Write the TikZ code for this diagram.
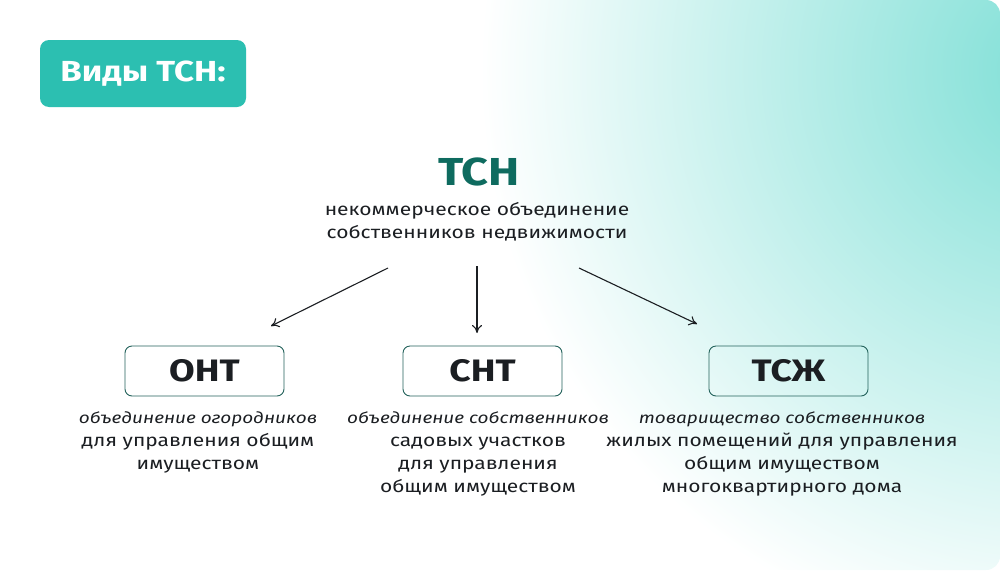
\documentclass[tikz,border=0pt]{standalone}
\usepackage{fontspec}
\setmainfont{Fira Sans}[FakeStretch=1.2]
\usetikzlibrary{arrows.meta}
\definecolor{teal1}{HTML}{2CBFB1}
\definecolor{teal2}{HTML}{7EDFD6}
\definecolor{dteal}{HTML}{0E6B5F}
\definecolor{bord}{HTML}{23625B}
\definecolor{txt}{HTML}{1B1E22}
\newcommand{\itl}[1]{{\fontsize{15.8}{23}\selectfont\itshape #1}}
\tikzset{
 kind/.style={draw=bord,line width=0.9pt,rounded corners=7pt,minimum width=159pt,minimum height=50pt,inner sep=0pt,font=\fontsize{31}{31}\selectfont\bfseries,text=txt},
 desc/.style={align=center,font=\fontsize{17.5}{23}\selectfont,text=txt,anchor=north},
 arr/.style={-{To[length=8pt,width=10pt]},line width=1.1pt,txt}
}
\begin{document}
\begin{tikzpicture}[x=1pt,y=-1pt]
\useasboundingbox (0,0) rectangle (1000,570);
\begin{scope}
\clip[rounded corners=14pt] (0,0) rectangle (1000,570);
\fill[white] (0,0) rectangle (1000,570);
\shade[inner color=teal2,outer color=white] (1060,70) circle (580pt);
\end{scope}
\node[fill=teal1,rounded corners=9pt,minimum width=206pt,minimum height=67pt,text=white,font=\fontsize{29}{29}\selectfont\bfseries] (lab) at (143,73.5) {Виды ТСН:};
\node[text=dteal,font=\fontsize{39}{39}\selectfont\bfseries] (t) at (479,172) {ТСН};
\node[desc] (ts) at (477,199) {некоммерческое объединение\\собственников недвижимости};
\node[kind] (a) at (204.5,371) {ОНТ};
\node[kind] (b) at (482.5,371) {СНТ};
\node[kind] (c) at (788.5,371) {ТСЖ};
\coordinate (sa) at (388,268);
\coordinate (sb) at (477,266);
\coordinate (sc) at (579,268);
\draw[arr] (sa) -- (271,326);
\draw[arr] (sb) -- (477,333);
\draw[arr] (sc) -- (697,324);
\node[desc] (da) at (198,408) {\itl{объединение огородников}\\для управления общим\\имуществом};
\node[desc] (db) at (478,408) {\itl{объединение собственников}\\садовых участков\\для управления\\общим имуществом};
\node[desc] (dc) at (782,408) {\itl{товарищество собственников}\\жилых помещений для управления\\общим имуществом\\многоквартирного дома};
\end{tikzpicture}
\end{document}
